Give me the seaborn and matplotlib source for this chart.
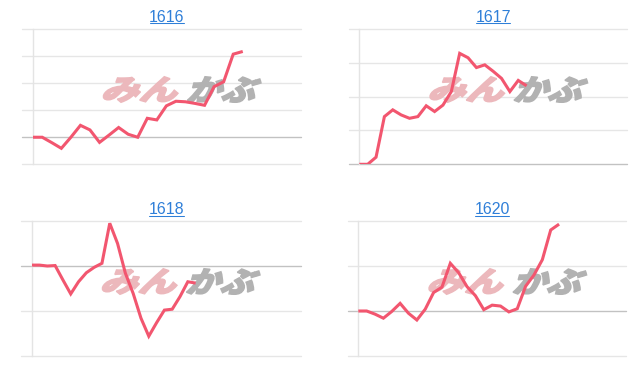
import matplotlib
matplotlib.use("Agg")
import numpy as np
import pandas as pd
import seaborn as sns
import matplotlib.pyplot as plt
from matplotlib.lines import Line2D
from matplotlib.textpath import TextPath
from matplotlib.patches import PathPatch
from matplotlib.font_manager import FontProperties
from matplotlib.transforms import Affine2D, IdentityTransform

# ---------------- data ----------------
codes = ["1616", "1617", "1618", "1620"]

v1616 = [0, 0, -0.2, -0.41, 0.0, 0.44, 0.27, -0.19, 0.08, 0.36, 0.11, 0.0,
         0.70, 0.64, 1.16, 1.33, 1.31, 1.25, 1.18, 1.87, 2.05, 3.07, 3.17]
v1617 = [0, 0, 0.21, 1.41, 1.61, 1.46, 1.36, 1.41, 1.73, 1.56, 1.75, 2.15,
         3.28, 3.15, 2.86, 2.94, 2.75, 2.54, 2.15, 2.48, 2.32]
v1618 = [0.02, 0.02, 0.0, 0.01, -0.31, -0.62, -0.35, -0.15, -0.03, 0.06, 0.95,
         0.50, -0.16, -0.61, -1.16, -1.56, -1.26, -0.98, -0.96, -0.68, -0.35, -0.38]
v1620 = [0, 0, -0.07, -0.16, -0.01, 0.17, -0.05, -0.20, 0.04, 0.41, 0.53, 1.06,
         0.85, 0.54, 0.34, 0.03, 0.13, 0.11, -0.02, 0.05, 0.55, 0.80, 1.14, 1.80, 1.93]

series = [v1616, v1617, v1618, v1620]
# number of day slots on each x axis
slots = [28.1, 32.0, 34.5, 32.0]
# gridline values for each chart
grid_1616 = [-1, 0, 1, 2, 3, 4]
grid_1617 = [0, 1, 2, 3, 4]
grid_1618 = [-2, -1, 0, 1]
grid_1620 = [-1, 0, 1, 2]
grids = [grid_1616, grid_1617, grid_1618, grid_1620]

# ---------------- style ----------------
W, H = 640, 372
DPI = 100
LINE = "#f2566f"
GRID = "#e6e6e6"
BASE = "#c2c2c2"
AXIS = "#e4e4e4"
TITLE = "#2f7fd8"
PINK = "#ecb8bc"
GRAY = "#b2b2b2"

sns.set_theme(style="white")
plt.rcParams["font.family"] = ["Liberation Sans", "DejaVu Sans"]

fig = plt.figure(figsize=(W / DPI, H / DPI), dpi=DPI)
fig.patch.set_facecolor("white")

# axes boxes in pixels: left, top, right, bottom (from top-left)
boxes = [(32.7, 29, 301, 164.3), (359.3, 29, 627, 164.3),
         (31.7, 221, 301, 356), (358.3, 221, 626, 356)]
title_base = [21.7, 21.7, 214.3, 214.3]

fp_cjk = FontProperties(family="Noto Sans CJK JP", weight="black")


def logo_patch(text, rect, color):
    """rect = (x0, y0_top, x1, y1_bottom) in pixels from top-left"""
    p = TextPath((0, 0), text, size=100, prop=fp_cjk)
    p = Affine2D().skew_deg(18, 0).transform_path(p)
    ext = p.get_extents()
    x0, yt, x1, yb = rect
    sx = (x1 - x0 - 1.5) / ext.width
    sy = (yb - yt - 1.5) / ext.height
    tr = (Affine2D().translate(-ext.x0, -ext.y0).scale(sx, sy)
          .translate(x0 + 0.75, H - yb + 0.75))
    return PathPatch(p, transform=tr, facecolor=color, edgecolor=color,
                     linewidth=1.1, zorder=1.2)


titles = []
for i, (code, vals, n, gv, box) in enumerate(zip(codes, series, slots, grids, boxes)):
    l, t, r, b = box
    ax = fig.add_axes([l / W, 1 - b / H, (r - l) / W, (b - t) / H])
    ax.set_facecolor("none")
    df = pd.DataFrame({"day": np.arange(len(vals)), "value": vals})

    # gridlines, extended to the left like tick marks
    ext = 10.5 / (r - l)
    for v in gv:
        ax.axhline(v, xmin=-ext, xmax=1, clip_on=False, lw=1,
                   color=BASE if v == 0 else GRID, zorder=0.5)

    # watermark
    ax.add_patch(logo_patch("みん", (l + 70, t + 47, l + 146, t + 74), PINK))
    ax.add_patch(logo_patch("かぶ", (l + 154, t + 47, l + 229, t + 74), GRAY))

    sns.lineplot(data=df, x="day", y="value", ax=ax, color=LINE,
                 linewidth=2.2, zorder=3)
    for ln in ax.get_lines():
        if ln.get_color() == LINE:
            ln.set_solid_joinstyle("miter")
            ln.set_solid_capstyle("butt")

    ax.set_xlim(0, n)
    ax.set_ylim(min(gv), max(gv))
    ax.set_xticks([])
    ax.set_yticks([])
    ax.set_xlabel("")
    ax.set_ylabel("")
    for s in ["top", "right", "bottom"]:
        ax.spines[s].set_visible(False)
    ax.spines["left"].set_color(AXIS)
    ax.spines["left"].set_linewidth(1)

    cx = (l + r) / 2
    tt = fig.text(cx / W, 1 - title_base[i] / H, code, ha="center",
                  va="baseline", color=TITLE, fontsize=11.5,
                  family=["Liberation Sans", "DejaVu Sans"])
    titles.append((tt, title_base[i]))

# underline the titles (they are links)
fig.canvas.draw()
renderer = fig.canvas.get_renderer()
for tt, yb in titles:
    bb = tt.get_window_extent(renderer)
    y = H - (yb + 1.6)
    fig.add_artist(Line2D([bb.x0 + 0.5, bb.x1 - 0.5], [y, y],
                          transform=IdentityTransform(),
                          color=TITLE, lw=0.75))

fig.savefig("out.png", dpi=DPI, facecolor="white")
